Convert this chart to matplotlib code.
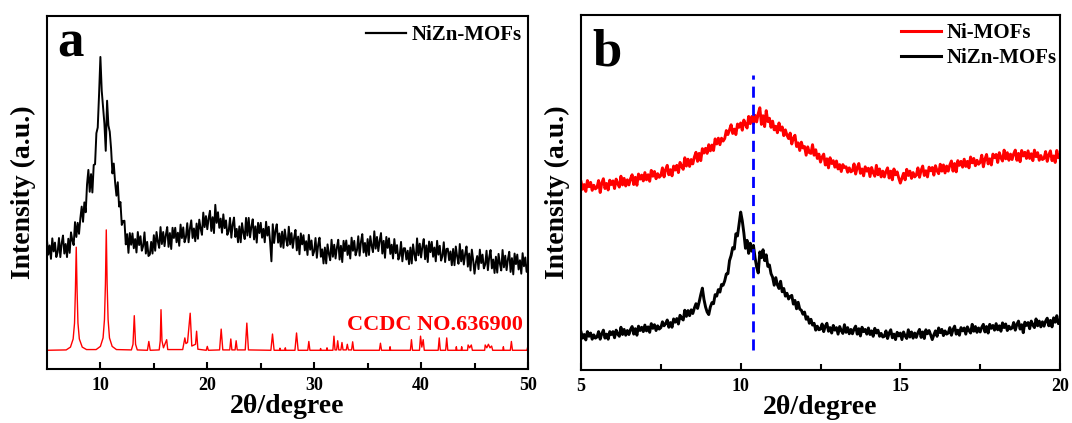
import numpy as np
import matplotlib
matplotlib.use("Agg")
import matplotlib.pyplot as plt

plt.rcParams["font.family"] = ["Liberation Serif", "DejaVu Serif"]
plt.rcParams["font.weight"] = "bold"
plt.rcParams["axes.labelweight"] = "bold"
plt.rcParams["axes.linewidth"] = 1.5

# ==========================
# Data
# ==========================

# panel a, measured NiZn-MOFs pattern, 0.125 degree steps 5 .. 50
a_theta = np.linspace(5.0, 50.0, 361)
a_nizn = [
    36.6, 32.4, 35.0, 31.2, 37.0, 33.3, 35.8, 31.7,
    33.1, 37.1, 31.7, 35.6, 37.8, 32.7, 35.4, 31.7,
    36.9, 32.9, 38.7, 36.4, 35.1, 41.6, 37.4, 41.4,
    38.3, 42.7, 46.0, 41.7, 47.2, 44.4, 52.3, 56.4,
    50.2, 55.2, 50.0, 57.8, 58.0, 66.8, 68.4, 77.8,
    88.4, 78.8, 74.2, 69.5, 61.8, 76.0, 69.0, 67.2,
    62.4, 55.4, 58.2, 52.9, 49.1, 52.9, 46.0, 47.3,
    40.8, 41.9, 42.0, 35.3, 38.2, 32.9, 38.5, 35.2,
    38.4, 34.2, 36.8, 33.0, 38.8, 35.1, 37.6, 33.5,
    34.8, 38.7, 32.7, 36.0, 32.0, 32.4, 36.0, 32.7,
    37.9, 33.5, 38.8, 36.1, 34.3, 40.2, 35.4, 38.8,
    34.8, 38.0, 40.2, 34.6, 38.5, 34.0, 40.0, 37.1,
    40.0, 35.9, 38.6, 34.9, 40.9, 37.1, 40.1, 35.9,
    37.3, 41.3, 35.9, 39.8, 42.1, 37.1, 39.8, 36.2,
    41.2, 36.9, 42.3, 39.8, 38.0, 44.3, 40.2, 43.3,
    39.6, 42.7, 44.8, 39.1, 43.0, 38.5, 46.5, 41.4,
    44.4, 40.0, 42.6, 38.6, 43.8, 39.9, 42.1, 38.0,
    39.0, 42.8, 37.2, 40.9, 42.9, 37.4, 39.7, 35.9,
    40.4, 35.9, 41.3, 38.6, 36.8, 42.8, 37.8, 42.8,
    37.3, 40.3, 42.4, 36.7, 40.4, 35.8, 41.4, 38.5,
    41.4, 37.2, 39.7, 35.9, 41.7, 37.8, 40.3, 36.1,
    30.5, 41.0, 35.7, 39.2, 41.0, 35.8, 38.4, 34.6,
    38.9, 34.3, 39.5, 36.7, 34.9, 40.3, 35.3, 38.5,
    34.3, 37.3, 39.4, 33.6, 37.5, 32.5, 38.4, 35.3,
    37.9, 33.6, 36.2, 32.3, 38.0, 33.8, 36.4, 32.2,
    33.3, 37.1, 31.5, 35.2, 37.2, 31.8, 33.9, 29.9,
    34.4, 29.9, 35.3, 32.6, 30.8, 36.6, 31.8, 35.2,
    31.3, 34.4, 36.6, 31.0, 34.9, 30.3, 36.3, 33.4,
    36.4, 32.3, 35.0, 31.3, 37.2, 33.5, 36.3, 32.2,
    33.6, 37.6, 32.1, 36.0, 38.2, 33.0, 35.7, 32.0,
    36.8, 32.3, 37.6, 34.9, 33.1, 39.0, 34.1, 37.4,
    33.4, 36.4, 38.5, 32.7, 36.3, 31.5, 37.4, 34.3,
    37.0, 32.6, 35.2, 31.3, 36.8, 32.8, 35.1, 31.0,
    32.1, 36.0, 30.5, 34.2, 34.2, 31.0, 33.5, 29.7,
    34.4, 29.9, 35.3, 32.5, 30.7, 37.0, 32.2, 35.5,
    31.6, 34.7, 36.8, 31.1, 35.0, 30.3, 36.1, 33.1,
    36.0, 31.8, 34.4, 30.5, 36.3, 32.4, 34.9, 30.7,
    32.0, 35.9, 30.3, 34.0, 34.1, 30.8, 33.3, 29.4,
    34.0, 29.4, 34.7, 31.9, 29.8, 35.4, 30.5, 33.7,
    29.6, 32.6, 34.7, 29.0, 32.7, 27.9, 33.8, 30.8,
    27.0, 30.2, 32.0, 28.3, 33.8, 30.0, 32.4, 28.5,
    29.6, 33.5, 28.0, 31.7, 33.7, 28.5, 31.0, 27.2,
    31.8, 27.3, 32.6, 29.8, 27.9, 33.7, 28.8, 32.1,
    28.0, 31.1, 33.2, 27.5, 31.4, 26.8, 32.7, 29.7,
    32.4, 28.2, 30.8, 27.0, 32.8, 29.1, 31.6, 27.5,
    29.6,
]

# simulated pattern CCDC NO.636900, vertices
ccdc_theta = [
    5.0, 6.8, 7.2, 7.45, 7.58, 7.66, 7.74, 7.82, 7.90, 8.03, 8.3, 8.7,
    9.6, 10.0, 10.25, 10.38, 10.47, 10.55, 10.63, 10.72, 10.85, 11.1, 11.5,
    12.9, 13.05, 13.17, 13.29, 13.45,
    14.4, 14.53, 14.66,
    15.5, 15.6, 15.67, 15.76, 15.9, 16.2, 16.3,
    17.7, 17.9, 18.0, 18.15, 18.4, 18.55, 18.9, 19.0, 19.12,
    19.9, 20.0, 20.1,
    21.15, 21.3, 21.45,
    22.1, 22.2, 22.3, 22.6, 22.7, 22.8,
    23.55, 23.7, 23.85,
    25.95, 26.1, 26.25,
    26.75, 26.8, 26.85, 27.25, 27.3, 27.35,
    28.2, 28.35, 28.5,
    29.4, 29.5, 29.6,
    30.55, 30.6, 30.65,
    31.15, 31.2, 31.25,
    31.75, 31.85, 31.95, 32.1, 32.2, 32.3, 32.5, 32.6, 32.7,
    33.0, 33.1, 33.2, 33.5, 33.6, 33.7,
    36.1, 36.2, 36.3,
    37.05, 37.1, 37.15,
    39.0, 39.1, 39.2,
    39.85, 39.95, 40.07, 40.2, 40.3,
    41.6, 41.7, 41.8,
    42.3, 42.4, 42.5,
    43.25, 43.3, 43.35, 43.75, 43.8, 43.85,
    44.35, 44.4, 44.55, 44.7, 44.8,
    45.95, 46.0, 46.15, 46.3, 46.45, 46.6, 46.7,
    47.65, 47.7, 47.75,
    48.35, 48.45, 48.55,
    49.9, 50.0,
]
ccdc_int = [
    5.3, 5.4, 6.2, 8.5, 13.0, 22.0, 34.5, 22.0, 13.0, 8.5, 6.2, 5.5,
    5.5, 6.4, 8.8, 14.0, 24.0, 39.4, 24.0, 14.0, 8.8, 6.4, 5.5,
    5.4, 7.0, 15.1, 7.0, 5.4,
    5.3, 7.8, 5.3,
    5.4, 8.0, 16.8, 8.0, 6.0, 8.3, 5.5,
    5.5, 8.8, 7.2, 7.5, 15.8, 6.5, 7.0, 10.7, 5.6,
    5.3, 6.4, 5.3,
    5.4, 11.3, 5.4,
    5.4, 8.5, 5.4, 5.4, 8.0, 5.4,
    5.4, 13.0, 5.4,
    5.3, 9.9, 5.3,
    5.3, 5.9, 5.3, 5.3, 6.0, 5.3,
    5.3, 10.2, 5.3,
    5.3, 7.8, 5.3,
    5.3, 5.8, 5.3,
    5.3, 6.0, 5.3,
    5.3, 9.3, 5.4, 5.4, 8.0, 5.4, 5.4, 7.5, 5.4,
    5.4, 7.0, 5.4, 5.4, 7.7, 5.3,
    5.3, 7.3, 5.3,
    5.3, 6.3, 5.3,
    5.3, 8.3, 5.3,
    5.3, 9.3, 6.2, 8.3, 5.3,
    5.3, 8.8, 5.3,
    5.3, 8.8, 5.3,
    5.3, 6.3, 5.3, 5.3, 6.3, 5.3,
    5.3, 6.8, 6.0, 6.8, 5.3,
    5.3, 6.8, 6.0, 7.0, 6.0, 6.5, 5.3,
    5.3, 6.3, 5.3,
    5.3, 7.8, 5.3,
    5.3, 6.5,
]

# panel b, 0.05 degree steps 5 .. 20
b_theta = np.linspace(5.0, 20.0, 301)
b_ni = [
    54.0, 51.9, 53.2, 51.3, 54.3, 52.6, 53.8, 51.6, 53.0, 52.0,
    52.4, 54.3, 51.0, 53.6, 54.8, 52.1, 53.5, 51.7, 54.4, 53.2,
    54.2, 52.1, 54.7, 53.4, 52.5, 55.5, 53.1, 54.9, 52.8, 54.5,
    53.1, 54.8, 55.9, 53.2, 55.2, 53.0, 56.1, 54.7, 55.8, 54.2,
    56.5, 54.5, 55.9, 54.1, 57.1, 55.5, 56.8, 54.8, 56.2, 55.2,
    55.7, 57.8, 55.3, 57.3, 58.5, 55.9, 57.3, 55.6, 58.3, 57.2,
    58.5, 56.5, 59.3, 58.2, 57.4, 60.6, 58.3, 60.2, 58.2, 60.1,
    58.9, 60.8, 62.1, 59.6, 61.8, 59.8, 63.1, 61.9, 63.2, 61.8,
    64.2, 62.5, 64.1, 62.6, 65.8, 64.4, 66.0, 64.2, 66.0, 65.2,
    65.9, 68.1, 67.0, 68.3, 69.7, 67.3, 68.5, 67.0, 69.9, 69.0,
    70.2, 68.2, 71.0, 69.8, 68.8, 72.0, 70.0, 72.0, 70.0, 72.3,
    70.5, 72.8, 74.4, 69.8, 72.2, 69.2, 73.6, 70.6, 71.5, 69.0,
    70.7, 68.3, 69.3, 67.5, 70.2, 68.2, 69.1, 66.7, 68.3, 66.8,
    65.9, 67.4, 64.4, 66.0, 66.8, 63.7, 64.7, 62.6, 64.9, 63.3,
    63.7, 61.3, 63.6, 62.0, 61.8, 64.2, 61.3, 62.8, 60.4, 61.6,
    59.4, 60.8, 61.6, 58.6, 60.3, 57.8, 60.6, 59.0, 59.8, 58.0,
    59.7, 57.5, 58.7, 56.8, 58.7, 57.9, 58.1, 56.6, 57.8, 56.7,
    57.0, 58.9, 56.1, 57.9, 59.0, 56.3, 57.5, 55.6, 58.1, 56.9,
    57.7, 55.4, 57.9, 56.5, 55.5, 58.5, 55.9, 57.5, 55.3, 56.9,
    55.3, 56.8, 57.8, 55.0, 56.9, 54.5, 57.5, 55.9, 56.7, 55.0,
    53.6, 55.0, 56.3, 54.5, 57.4, 55.7, 56.9, 54.9, 56.5, 55.3,
    55.8, 57.8, 55.2, 57.1, 58.3, 55.7, 57.0, 55.3, 58.0, 57.0,
    57.9, 55.8, 58.4, 57.0, 56.2, 58.8, 56.9, 58.6, 56.4, 58.3,
    56.9, 58.6, 59.7, 56.9, 59.0, 56.7, 59.8, 58.5, 59.6, 58.0,
    60.2, 58.2, 59.6, 57.8, 60.8, 59.2, 60.4, 58.4, 59.9, 58.8,
    59.3, 61.3, 58.1, 60.2, 61.5, 58.9, 60.3, 58.6, 61.6, 60.6,
    61.5, 59.3, 62.0, 60.6, 59.7, 62.7, 60.3, 62.0, 59.9, 61.6,
    60.1, 61.7, 62.7, 59.9, 61.8, 59.5, 62.6, 61.1, 62.1, 60.4,
    62.5, 60.4, 61.7, 59.8, 62.7, 60.9, 62.0, 59.9, 61.2, 60.1,
    60.4, 62.3, 59.6, 61.4, 62.5, 59.8, 61.1, 59.3, 62.6, 60.6,
    61.2,
]
b_nizn = [
    12.5, 10.8, 11.8, 10.3, 12.6, 11.3, 12.2, 10.5, 11.7, 10.8,
    11.1, 12.6, 10.5, 12.0, 13.0, 10.8, 11.9, 10.5, 12.6, 11.8,
    12.6, 10.9, 13.0, 11.9, 11.3, 13.8, 11.8, 13.2, 11.6, 12.9,
    11.8, 13.2, 14.0, 11.9, 13.4, 11.6, 14.1, 12.9, 13.8, 12.6,
    14.4, 12.8, 13.9, 12.4, 14.8, 13.5, 14.5, 12.9, 14.2, 13.3,
    13.7, 15.3, 14.2, 14.8, 15.8, 13.8, 15.1, 13.8, 16.1, 15.2,
    16.2, 14.7, 17.1, 16.3, 15.8, 18.5, 16.8, 18.4, 17.0, 18.6,
    17.6, 19.1, 20.3, 19.0, 20.8, 22.8, 24.6, 21.5, 19.4, 18.0,
    17.3, 19.4, 20.6, 20.3, 22.8, 22.4, 24.2, 23.5, 25.6, 25.4,
    26.6, 28.5, 28.6, 32.2, 33.6, 35.8, 35.4, 39.6, 39.0, 42.4,
    45.6, 43.2, 39.8, 35.6, 37.8, 34.2, 37.0, 34.8, 36.4, 33.0,
    30.4, 28.8, 34.6, 33.0, 35.2, 32.2, 33.8, 30.6, 31.0, 28.6,
    27.6, 25.4, 27.5, 25.5, 24.5, 26.5, 23.6, 24.5, 22.4, 23.2,
    21.6, 22.3, 22.6, 20.2, 21.2, 18.9, 20.7, 18.8, 18.5, 17.4,
    18.0, 16.0, 16.7, 14.9, 16.0, 14.4, 14.9, 13.0, 14.1, 13.1,
    13.3, 14.7, 12.6, 14.1, 14.9, 12.7, 13.7, 12.2, 14.3, 13.0,
    13.7, 11.9, 14.0, 12.9, 12.1, 14.5, 12.4, 13.7, 12.0, 13.2,
    12.0, 13.3, 14.1, 11.9, 13.4, 11.4, 13.8, 12.6, 13.2, 11.9,
    13.6, 11.8, 12.8, 11.3, 13.5, 12.2, 13.0, 11.3, 12.1, 11.1,
    11.3, 12.8, 10.7, 12.2, 13.1, 10.9, 11.9, 10.4, 12.4, 11.4,
    12.2, 10.4, 12.5, 11.4, 10.7, 13.1, 11.1, 12.5, 10.8, 12.2,
    11.0, 12.3, 13.2, 11.0, 12.5, 10.7, 13.1, 12.0, 12.9, 11.7,
    10.4, 11.7, 12.8, 11.3, 13.6, 12.3, 13.2, 11.5, 12.8, 11.9,
    12.2, 13.7, 11.6, 13.2, 14.1, 11.9, 13.0, 11.6, 13.7, 12.8,
    13.6, 11.9, 13.9, 12.9, 12.2, 14.6, 12.7, 14.0, 12.4, 13.6,
    12.5, 13.8, 14.6, 12.5, 14.0, 12.2, 14.6, 13.5, 14.3, 13.0,
    14.8, 13.1, 14.2, 12.7, 15.0, 13.7, 14.7, 12.9, 14.1, 13.3,
    13.6, 15.1, 13.0, 14.6, 15.5, 13.3, 14.5, 12.3, 15.2, 14.3,
    15.1, 13.4, 15.5, 14.4, 13.7, 16.1, 14.2, 15.5, 13.9, 15.3,
    14.1, 15.5, 16.3, 14.2, 15.7, 13.9, 16.4, 15.2, 17.0, 14.8,
    15.6,
]

# position of the dashed guide line in panel b
guide_theta = 10.4
guide_range = [7.5, 83.4]

# ==========================
# Figure
# ==========================

fig = plt.figure(figsize=(10.72, 4.23), dpi=100)

ax_a = fig.add_axes([0.0438, 0.1277, 0.4487, 0.8345])
ax_b = fig.add_axes([0.542, 0.1253, 0.4468, 0.8392])

# ==========================
# Panel a
# ==========================

ax_a.plot(a_theta, a_nizn, color="black", lw=1.4, label="NiZn-MOFs")
ax_a.plot(ccdc_theta, ccdc_int, color="red", lw=1.0)

ax_a.set_xlim(5, 50)
ax_a.set_ylim(0, 100)
ax_a.set_xticks([10, 20, 30, 40, 50])
ax_a.set_xticks([15, 25, 35, 45], minor=True)

ax_a.text(0.99, 0.11, "CCDC NO.636900", color="red", fontsize=16,
          ha="right", va="baseline", transform=ax_a.transAxes)
ax_a.text(0.021, 0.884, "a", fontsize=38, ha="left", va="baseline",
          transform=ax_a.transAxes)

leg_a = ax_a.legend(loc="upper right", bbox_to_anchor=(0.9875, 0.974),
                    frameon=False, fontsize=15, handlelength=1.9,
                    handletextpad=0.3, borderpad=0, borderaxespad=0)
for line in leg_a.get_lines():
    line.set_linewidth(1.6)

# ==========================
# Panel b
# ==========================

ax_b.plot(b_theta, b_ni, color="red", lw=2.1, label="Ni-MOFs")
ax_b.plot(b_theta, b_nizn, color="black", lw=2.1, label="NiZn-MOFs")
ax_b.vlines(guide_theta, guide_range[0], guide_range[1], colors="blue",
            lw=2, linestyles=(0, (4, 2.5)))

ax_b.set_xlim(5, 20)
ax_b.set_ylim(2, 100)
ax_b.set_xticks([5, 10, 15, 20])
ax_b.set_xticks([7.5, 12.5, 17.5], minor=True)

ax_b.text(0.024, 0.859, "b", fontsize=38, ha="left", va="baseline",
          transform=ax_b.transAxes)

leg_b = ax_b.legend(loc="upper right", bbox_to_anchor=(0.9937, 0.977),
                    frameon=False, fontsize=15, handlelength=1.9,
                    handletextpad=0.3, labelspacing=0.25, borderpad=0,
                    borderaxespad=0)
for line in leg_b.get_lines():
    line.set_linewidth(2.2)

# ==========================
# Shared styling
# ==========================

for ax in (ax_a, ax_b):
    ax.set_yticks([])
    ax.tick_params(axis="x", which="both", direction="in", width=1.5,
                   labelsize=13, pad=6)
    ax.tick_params(axis="x", which="major", length=5)
    ax.tick_params(axis="x", which="minor", length=4)
    ax.set_xlabel("2θ/degree", fontsize=20, labelpad=0)
    ax.set_ylabel("Intensity (a.u.)", fontsize=20, labelpad=8)

fig.savefig("out.png", dpi=100)
